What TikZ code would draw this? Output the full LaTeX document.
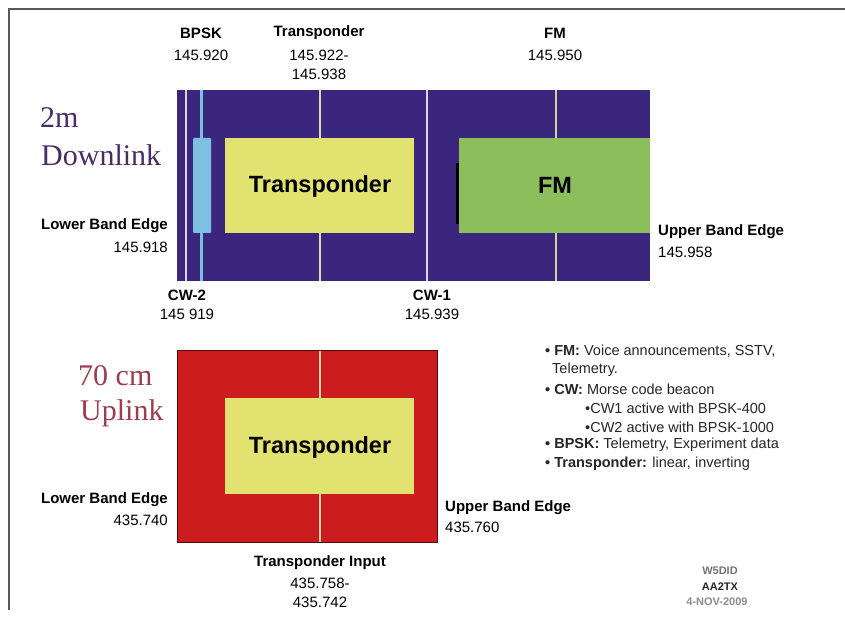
\documentclass[tikz,border=0pt]{standalone}
\usepackage{fontspec}
\setmainfont{Liberation Sans}
\newfontfamily\seriffont{Liberation Serif}
\usepackage{tikz}
\usetikzlibrary{positioning, calc}

\definecolor{bandpurple}{RGB}{58,38,124}
\definecolor{bandred}{RGB}{204,28,30}
\definecolor{bpskblue}{RGB}{126,192,226}
\definecolor{xpdryellow}{RGB}{226,226,112}
\definecolor{fmgreen}{RGB}{140,190,92}
\definecolor{downtitle}{RGB}{72,44,104}
\definecolor{uptitle}{RGB}{160,58,78}
\definecolor{markline}{RGB}{222,218,172}
\definecolor{cwline}{RGB}{222,210,236}

\begin{document}
\begin{tikzpicture}[
    x=1pt, y=-1pt,
    label/.style={font=\bfseries\fontsize{15}{16}\selectfont, inner sep=0pt},
    freqtext/.style={font=\fontsize{15}{16}\selectfont, inner sep=0pt},
    boxtext/.style={font=\bfseries\fontsize{23.5}{24}\selectfont, inner sep=0pt},
    bandtitle/.style={font=\seriffont\fontsize{30}{30}\selectfont, anchor=west, inner sep=0pt},
    infotext/.style={font=\fontsize{14.5}{15}\selectfont, anchor=west, inner sep=0pt, text=black!85},
    signline/.style={font=\bfseries\fontsize{11}{12}\selectfont, inner sep=0pt},
  ]

  % page and frame
  \useasboundingbox (0,0) rectangle (845,617);
  \fill[white] (0,0) rectangle (845,617);
  \draw[black!65, line width=1.5pt] (9,610) -- (9,9) -- (845,9);

  % 2m downlink band
  \fill[bandpurple] (177,90) rectangle (650,281);
  \draw[cwline!80!pink, line width=1.5pt] (186,90) -- (186,281);
  \draw[bpskblue, line width=3pt] (201,90) -- (201,281);
  \fill[bpskblue, rounded corners=1pt] (193,138) rectangle (211,233);
  \draw[markline, line width=2pt] (320,90) -- (320,281);
  \draw[cwline, line width=2pt] (427,90) -- (427,281);
  \draw[markline!80!fmgreen, line width=2pt] (556,90) -- (556,281);
  \fill[xpdryellow] (225,138) rectangle (414,233);
  \fill[fmgreen] (459,138) rectangle (650,233);
  \fill[black] (455.5,163) rectangle (459,224);
  \node[boxtext] (xpdr_dn) at (320,186) {Transponder};
  \node[boxtext] (fm_dn) at (555,185) {FM};

  \node[bandtitle, text=downtitle] (title_2m) at (40,118) {2m};
  \node[bandtitle, text=downtitle] (title_dn) at (41,155) {Downlink};

  % downlink labels
  \node[label] (bpsk_lbl) at (201,33) {BPSK};
  \node[freqtext] (bpsk_freq) at (201,55) {145.920};
  \node[label] (xpdr_lbl) at (319,33) {Transponder};
  \node[freqtext] (xpdr_freq) at (319,55) {145.922-};
  \node[freqtext] (xpdr_freq2) at (319,74) {145.938};
  \node[label] (fm_lbl) at (555,33) {FM};
  \node[freqtext] (fm_freq) at (555,55) {145.950};
  \node[label, anchor=east] (lbe_dn) at (168,226) {Lower Band Edge};
  \node[freqtext, anchor=east] (lbe_dn_f) at (168,247) {145.918};
  \node[label, anchor=west] (ube_dn) at (658,232) {Upper Band Edge};
  \node[freqtext, anchor=west] (ube_dn_f) at (658,252) {145.958};
  \node[label] (cw2_lbl) at (187,295) {CW-2};
  \node[freqtext] (cw2_freq) at (187,314) {145 919};
  \node[label] (cw1_lbl) at (432,295) {CW-1};
  \node[freqtext] (cw1_freq) at (432,314) {145.939};

  % 70 cm uplink band
  \fill[bandred] (177,350) rectangle (437,542);
  \draw[black!60!bandred, line width=1pt] (177,350) rectangle (437,542);
  \draw[markline, line width=2pt] (320,350.5) -- (320,541.5);
  \fill[xpdryellow] (225,398) rectangle (414,494);
  \node[boxtext] (xpdr_up) at (320,447) {Transponder};

  \node[bandtitle, text=uptitle] (title_70) at (78,376) {70 cm};
  \node[bandtitle, text=uptitle] (title_up) at (80,413) {Uplink};

  % uplink labels
  \node[label, anchor=east] (lbe_up) at (168,500) {Lower Band Edge};
  \node[freqtext, anchor=east] (lbe_up_f) at (168,520) {435.740};
  \node[label, anchor=west] (ube_up) at (445,508) {Upper Band Edge};
  \node[freqtext, anchor=west] (ube_up_f) at (445,527) {435.760};
  \node[label] (xin_lbl) at (320,563) {Transponder Input};
  \node[freqtext] (xin_freq) at (320,583) {435.758-};
  \node[freqtext] (xin_freq2) at (320,602) {435.742};

  % legend text
  \node[infotext] (info_fm) at (545,351) {\textbf{\textbullet\ FM:} Voice announcements, SSTV,};
  \node[infotext] (info_fm2) at (552,370) {Telemetry.};
  \node[infotext] (info_cw) at (545,389) {\textbf{\textbullet\ CW:} Morse code beacon};
  \node[infotext] (info_cw1) at (585,408) {\textbullet CW1 active with BPSK-400};
  \node[infotext] (info_cw2) at (585,427) {\textbullet CW2 active with BPSK-1000};
  \node[infotext] (info_bpsk) at (545,445) {\textbf{\textbullet\ BPSK:} Telemetry, Experiment data};
  \node[infotext] (info_xpdr) at (545,464) {\textbf{\textbullet\ Transponder:} linear, inverting};

  % sign-off
  \node[signline, text=black!55] (sign_a) at (720,571) {W5DID};
  \node[signline, text=black!85] (sign_b) at (720,587) {AA2TX};
  \node[signline, text=black!45] (sign_c) at (717,602) {4-NOV-2009};

\end{tikzpicture}
\end{document}
